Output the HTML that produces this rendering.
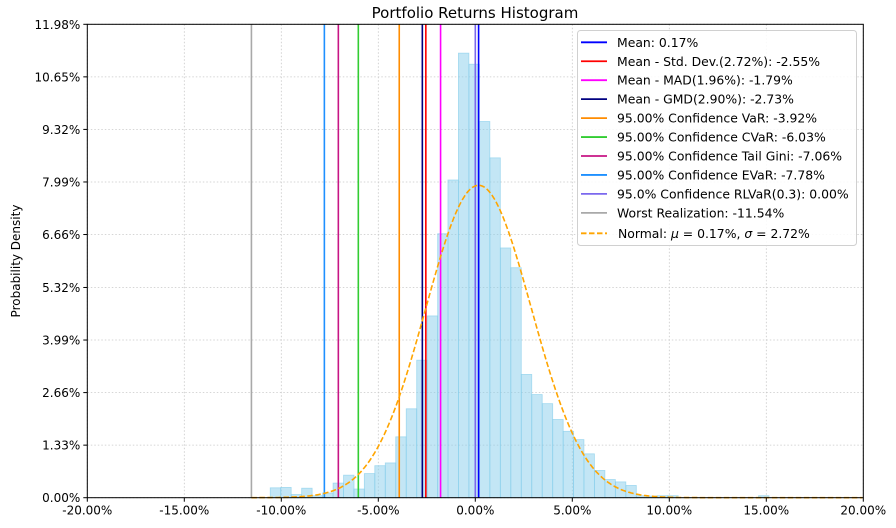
<!DOCTYPE html>
<html><head><meta charset="utf-8">
<style>
html,body{margin:0;padding:0;background:#fff;}
svg{display:block;font-family:"DejaVu Sans","Liberation Sans",sans-serif;}
</style></head>
<body>
<svg id="chart" width="896" height="528" viewBox="0 0 896 528" xmlns="http://www.w3.org/2000/svg">
<text x="475" y="18" font-size="15" text-anchor="middle" fill="#000">Portfolio Returns Histogram</text>
<text transform="translate(20,261) rotate(-90)" font-size="12" text-anchor="middle" fill="#000">Probability Density</text>
<g id="grid"></g>
<g id="bars"></g>
<g id="vlines"></g>
<g id="curve"></g>
<g id="axes"></g>
<g id="legend"></g>
</svg>
<script>
const binWidth = 0.539;
const binStarts = [-10.57,-10.03,-9.49,-8.95,-8.41,-7.87,-7.33,-6.79,-6.26,-5.72,-5.18,-4.64,-4.10,-3.56,-3.02,-2.48,-1.94,-1.41,-0.87,-0.33,0.21,0.75,1.29,1.83,2.37,2.91,3.45,3.99,4.53,5.06,5.60,6.14,6.68,7.22,7.76,8.30,8.84,9.38,9.92,14.6];
const binHeights = [0.25,0.26,0.08,0.24,0.05,0.12,0.37,0.57,0.22,0.61,0.81,0.88,1.54,2.25,3.48,4.60,6.68,8.04,11.25,10.97,9.52,8.60,6.32,5.82,3.12,2.61,2.38,1.98,1.68,1.47,1.11,0.69,0.46,0.40,0.31,0.05,0.04,0.05,0.05,0.05];
const yTicks = [0,1.33,2.66,3.99,5.32,6.66,7.99,9.32,10.65,11.98];
const xTicks = [-20,-15,-10,-5,0,5,10,15,20];
const lineLabels = ["Mean: 0.17%","Mean - Std. Dev.(2.72%): -2.55%","Mean - MAD(1.96%): -1.79%","Mean - GMD(2.90%): -2.73%","95.00% Confidence VaR: -3.92%","95.00% Confidence CVaR: -6.03%","95.00% Confidence Tail Gini: -7.06%","95.00% Confidence EVaR: -7.78%","95.0% Confidence RLVaR(0.3): 0.00%","Worst Realization: -11.54%"];
const lineValues = [0.17,-2.55,-1.79,-2.73,-3.92,-6.03,-7.06,-7.78,0.00,-11.54];
const lineColors = ["#0000ff","#ff0000","#ff00ff","#000080","#ff8c00","#32cd32","#c71585","#1e90ff","#7b68ee","#a9a9a9"];
const normalMu = 0.17;
const normalSigma = 2.72;

const NS = "http://www.w3.org/2000/svg";
const L = 87.3, R = 863.3, T = 24.3, B = 497.7;
const xMin = -20, xMax = 20, yMax = 11.98;
const xs = v => L + (v - xMin) / (xMax - xMin) * (R - L);
const ys = v => B - v / yMax * (B - T);
function mk(tag, attrs, parent){const e=document.createElementNS(NS,tag);for(const k in attrs)e.setAttribute(k,attrs[k]);parent.appendChild(e);return e;}

const grid = document.getElementById('grid');
xTicks.forEach(t=>{const l=mk('line',{x1:xs(t),x2:xs(t),y1:T,y2:B,stroke:'#c8c8c8','stroke-width':0.8,'stroke-dasharray':'1.5,2'},grid);

});
yTicks.forEach(t=>{const l=mk('line',{x1:L,x2:R,y1:ys(t),y2:ys(t),stroke:'#c8c8c8','stroke-width':0.8,'stroke-dasharray':'1.5,2'},grid);

});

const bars = document.getElementById('bars');
binStarts.forEach((s,i)=>{const x0=xs(s),x1=xs(s+binWidth);
const r=mk('rect',{x:x0,y:ys(binHeights[i]),width:x1-x0,height:B-ys(binHeights[i]),fill:'#87ceeb','fill-opacity':0.5,stroke:'#87ceeb','stroke-opacity':0.7,'stroke-width':0.8},bars);

});

const vl = document.getElementById('vlines');
lineValues.forEach((v,i)=>{const l=mk('line',{x1:xs(v),x2:xs(v),y1:T,y2:B,stroke:lineColors[i],'stroke-width':1.6},vl);

});

const cv = document.getElementById('curve');
let d='';
for(let x=xs(lineValues[9]);x<=R;x+=1){const v=xMin+(x-L)/(R-L)*(xMax-xMin);
const p=Math.exp(-0.5*((v-normalMu)/normalSigma)**2)/(normalSigma*Math.sqrt(2*Math.PI))*binWidth*100;
d+=(d?'L':'M')+x.toFixed(1)+','+ys(p).toFixed(1);}
const np=mk('path',{d:d,fill:'none',stroke:'#ffa500','stroke-width':1.6,'stroke-dasharray':'5.5,2.5'},cv);



const ax = document.getElementById('axes');
const fr=mk('rect',{x:L,y:T,width:R-L,height:B-T,fill:'none',stroke:'#000','stroke-width':1},ax);


xTicks.forEach(t=>{mk('line',{x1:xs(t),x2:xs(t),y1:B,y2:B+4,stroke:'#000'},ax);
const tx=mk('text',{x:xs(t),y:B+17,'font-size':12,'text-anchor':'middle',fill:'#000'},ax);tx.textContent=t.toFixed(2)+'%';

});
yTicks.forEach(t=>{mk('line',{x1:L-4,x2:L,y1:ys(t),y2:ys(t),stroke:'#000'},ax);
const tx=mk('text',{x:L-7,y:ys(t)+4.5,'font-size':12,'text-anchor':'end',fill:'#000'},ax);tx.textContent=t.toFixed(2)+'%';

});

const lg = document.getElementById('legend');


mk('rect',{x:577.5,y:30.5,width:279,height:215,rx:3,fill:'#fff','fill-opacity':0.85,stroke:'#d0d0d0'},lg);
lineLabels.forEach((lab,i)=>{const y=42.3+i*18.95;
mk('line',{x1:581,x2:607,y1:y,y2:y,stroke:lineColors[i],'stroke-width':1.8},lg);
const tx=mk('text',{x:617,y:y+4.5,'font-size':12.4,fill:'#000'},lg);tx.textContent=lab;

});
{const y=42.3+10*18.95+1.5;
mk('line',{x1:581,x2:607,y1:y,y2:y,stroke:'#ffa500','stroke-width':1.8,'stroke-dasharray':'5.5,2.5'},lg);
const tx=mk('text',{x:618,y:y+4.5,'font-size':12.4,fill:'#000'},lg);
tx.innerHTML='Normal: <tspan font-style="italic">μ</tspan> = 0.17%, <tspan font-style="italic">σ</tspan> = 2.72%';

}
</script>
</body></html>
